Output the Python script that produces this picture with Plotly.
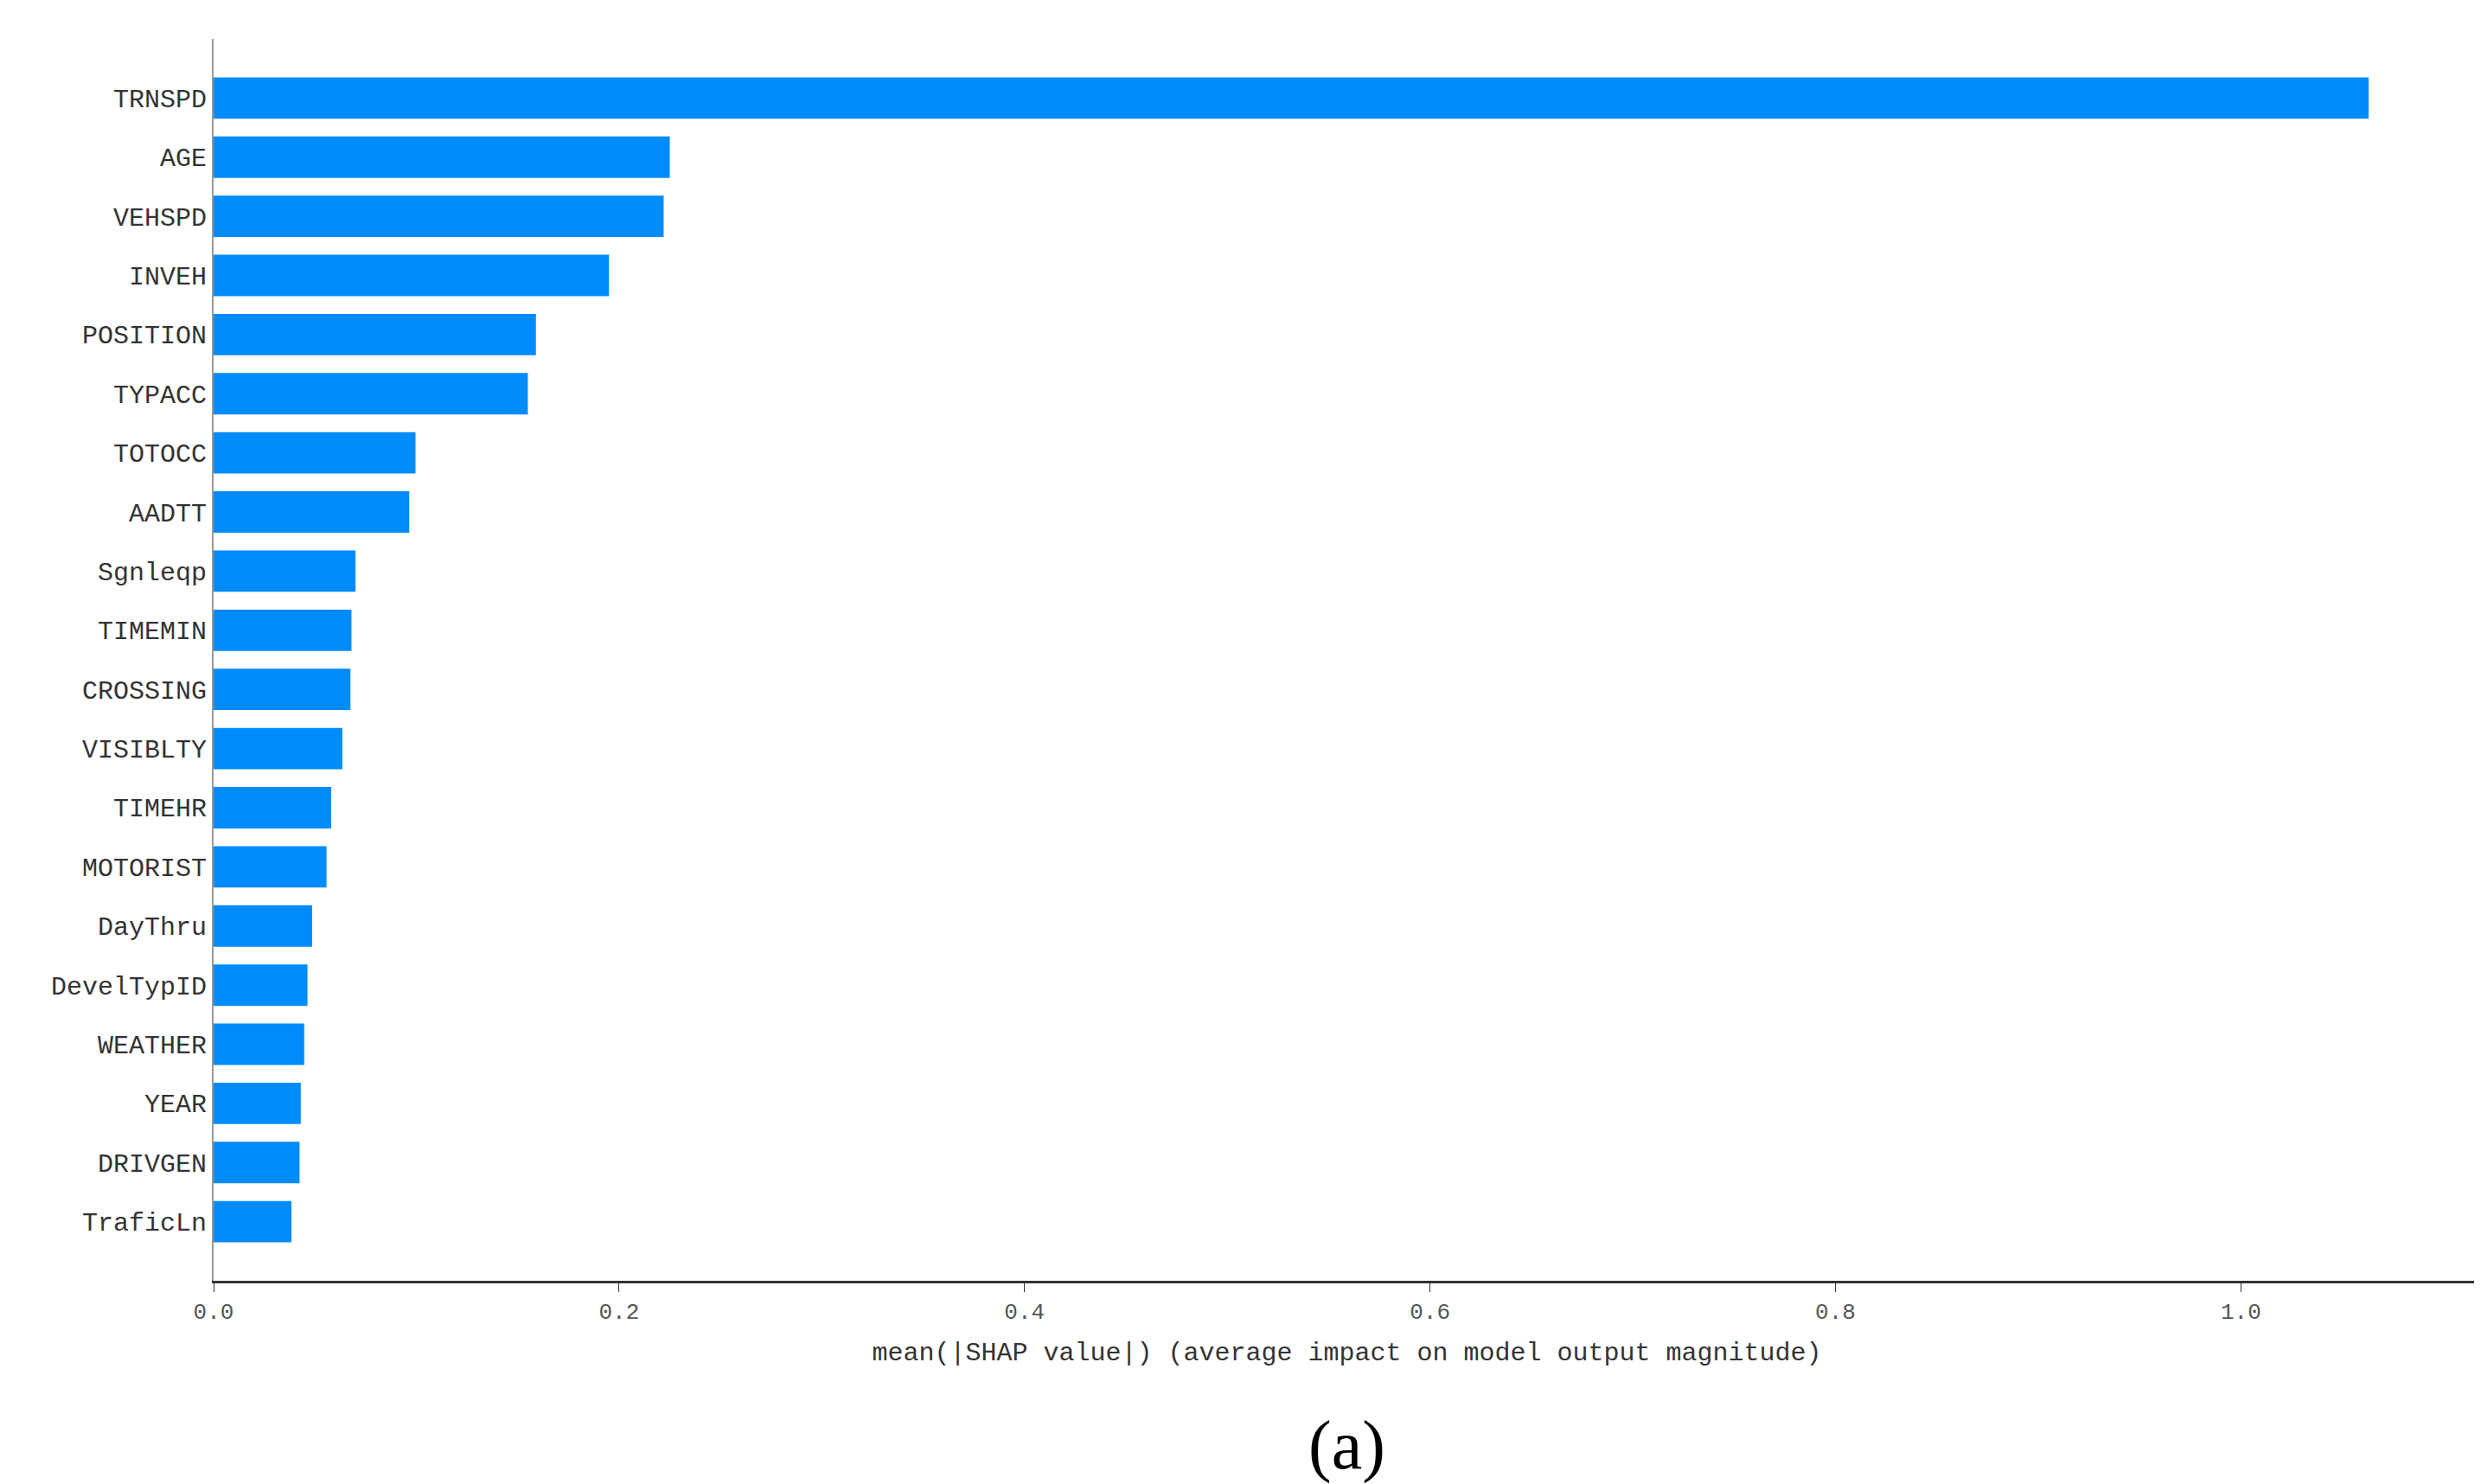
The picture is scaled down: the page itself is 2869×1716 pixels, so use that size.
import plotly.graph_objects as go

features = ["TRNSPD","AGE","VEHSPD","INVEH","POSITION","TYPACC","TOTOCC","AADTT","Sgnleqp","TIMEMIN",
            "CROSSING","VISIBLTY","TIMEHR","MOTORIST","DayThru","DevelTypID","WEATHER","YEAR","DRIVGEN","TraficLn"]
values = [1.063,0.225,0.222,0.195,0.159,0.155,0.0996,0.0965,0.070,0.068,
          0.0675,0.0635,0.058,0.0557,0.0486,0.0463,0.0447,0.043,0.0424,0.0384]
xticks = [0.0,0.2,0.4,0.6,0.8,1.0]

fig = go.Figure(go.Bar(x=values, y=list(range(len(features))), orientation="h",
                       width=0.7, marker=dict(color="#008bfb", line=dict(width=0))))
font = "Liberation Mono"
fig.update_layout(
    width=2869, height=1716, plot_bgcolor="white", paper_bgcolor="white",
    margin=dict(l=239, r=9, t=37, b=243), showlegend=False,
    xaxis=dict(range=[0, 1.118], tickvals=xticks, ticktext=[f"{t:.1f}" for t in xticks],
               showgrid=False, zeroline=False, showline=True, linecolor="#333", linewidth=3,
               ticks="outside", ticklen=10, tickcolor="#333",
               tickfont=dict(family=font, size=26, color="#555"),
               title=dict(text="mean(|SHAP value|) (average impact on model output magnitude)",
                          font=dict(family=font, size=30, color="#333"), standoff=20)),
    yaxis=dict(range=[20, -1], tickvals=list(range(len(features))), ticktext=features,
               showgrid=False, zeroline=False, showline=True, linecolor="#999", linewidth=2,
               ticks="", tickfont=dict(family=font, size=30, color="#333")),
)
fig.add_annotation(text="(a)", xref="paper", yref="paper", x=0.5, y=-0.165, showarrow=False,
                   font=dict(family="Liberation Serif", size=80, color="black"), xanchor="center")
fig.write_html("out.html")
